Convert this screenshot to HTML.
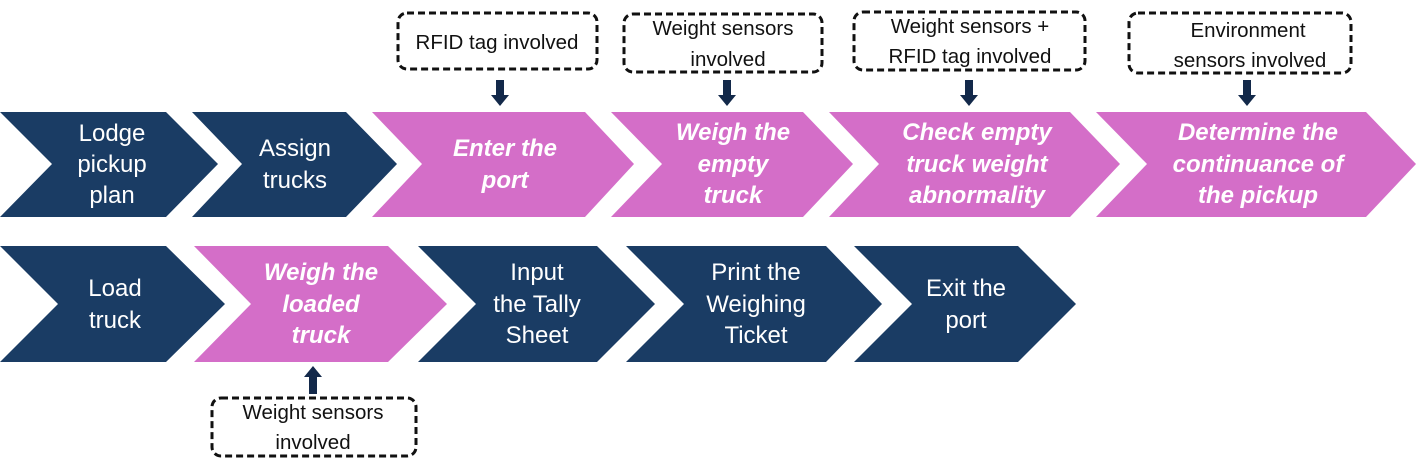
<!DOCTYPE html>
<html><head><meta charset="utf-8"><style>
html,body{margin:0;padding:0;background:#fff;width:1420px;height:466px;overflow:hidden}
svg{display:block}
.t{font-family:"Liberation Sans",sans-serif;font-size:24px;fill:#fff;text-anchor:middle}
.p{font-weight:bold;font-style:italic}
.c{font-family:"Liberation Sans",sans-serif;font-size:20.5px;fill:#111;text-anchor:middle}
.b{fill:none;stroke:#111;stroke-width:3;stroke-dasharray:7 4}
</style></head><body>
<svg width="1420" height="466" viewBox="0 0 1420 466">
<g fill="#1a3c64">
<polygon points="0,112 166,112 218,164 166,217 0,217 52,164"/>
<polygon points="192,112 346,112 397,164 346,217 192,217 242,164"/>
<polygon points="0,246 166,246 225,304 166,362 0,362 58,304"/>
<polygon points="418,246 597,246 655,304 597,362 418,362 476,304"/>
<polygon points="626,246 826,246 882,304 826,362 626,362 684,304"/>
<polygon points="854,246 1018,246 1076,304 1018,362 854,362 912,304"/>
</g>
<g fill="#d46ec8">
<polygon points="372,112 585,112 634,164 585,217 372,217 422,164"/>
<polygon points="611,112 803,112 853,164 803,217 611,217 662,164"/>
<polygon points="829,112 1070,112 1120,164 1070,217 829,217 879,164"/>
<polygon points="1096,112 1366,112 1416,164 1366,217 1096,217 1147,164"/>
<polygon points="194,246 388,246 447,304 388,362 194,362 251,304"/>
</g>
<text class="t" x="112" y="141">Lodge</text><text class="t" x="112" y="172">pickup</text><text class="t" x="112" y="203">plan</text>
<text class="t" x="295" y="156">Assign</text><text class="t" x="295" y="188">trucks</text>
<text class="t p" x="505" y="156">Enter the</text><text class="t p" x="505" y="188">port</text>
<text class="t p" x="733" y="140">Weigh the</text><text class="t p" x="733" y="172">empty</text><text class="t p" x="733" y="203">truck</text>
<text class="t p" x="977" y="140">Check empty</text><text class="t p" x="977" y="172">truck weight</text><text class="t p" x="977" y="203">abnormality</text>
<text class="t p" x="1258" y="140">Determine the</text><text class="t p" x="1258" y="172">continuance of</text><text class="t p" x="1258" y="203">the pickup</text>
<text class="t" x="115" y="296">Load</text><text class="t" x="115" y="328">truck</text>
<text class="t p" x="321" y="280">Weigh the</text><text class="t p" x="321" y="312">loaded</text><text class="t p" x="321" y="343">truck</text>
<text class="t" x="537" y="280">Input</text><text class="t" x="537" y="312">the Tally</text><text class="t" x="537" y="343">Sheet</text>
<text class="t" x="756" y="280">Print the</text><text class="t" x="756" y="312">Weighing</text><text class="t" x="756" y="343">Ticket</text>
<text class="t" x="966" y="296">Exit the</text><text class="t" x="966" y="328">port</text>
<rect class="b" x="398" y="13" width="199" height="56" rx="9"/>
<rect class="b" x="624" y="14" width="198" height="58" rx="9"/>
<rect class="b" x="854" y="12" width="231" height="58" rx="9"/>
<rect class="b" x="1129" y="13" width="222" height="60" rx="9"/>
<rect class="b" x="212" y="398" width="204" height="58" rx="9"/>
<text class="c" x="497" y="49">RFID tag involved</text>
<text class="c" x="723" y="35">Weight sensors</text><text class="c" x="728" y="66">involved</text>
<text class="c" x="970" y="33">Weight sensors +</text><text class="c" x="970" y="63">RFID tag involved</text>
<text class="c" x="1248" y="37">Environment</text><text class="c" x="1250" y="67">sensors involved</text>
<text class="c" x="313" y="419">Weight sensors</text><text class="c" x="313" y="449">involved</text>
<g fill="#13294a">
<polygon points="496,80 504,80 504,95 509,95 500,106 491,95 496,95"/>
<polygon points="723,80 731,80 731,95 736,95 727,106 718,95 723,95"/>
<polygon points="965,80 973,80 973,95 978,95 969,106 960,95 965,95"/>
<polygon points="1243,80 1251,80 1251,95 1256,95 1247,106 1238,95 1243,95"/>
<polygon points="309,394 317,394 317,377 322,377 313,366 304,377 309,377"/>
</g>
</svg>
</body></html>
